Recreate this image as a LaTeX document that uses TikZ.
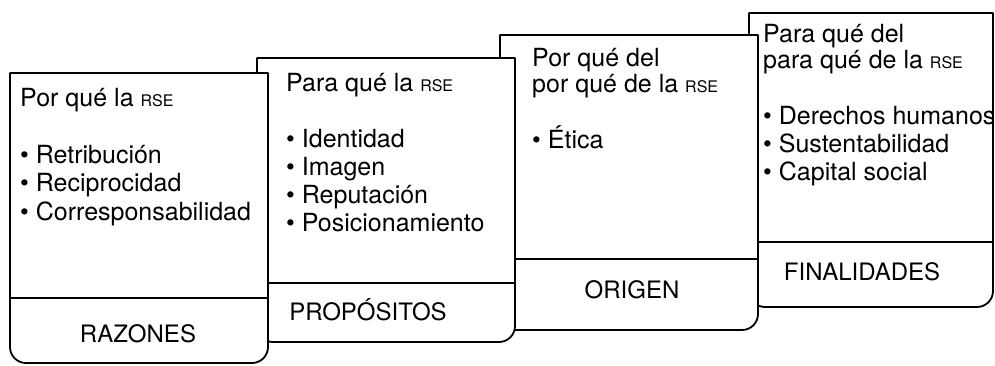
\documentclass[tikz,border=0pt]{standalone}
\usepackage{fontspec}
\setmainfont{TeX Gyre Heros}
\newcommand{\rse}{{\fontsize{16}{16}\selectfont RSE}}
\tikzset{
  card/.style={draw=black, fill=white, line width=1.8pt, line join=round},
  rule/.style={line width=1.8pt},
  txt/.style={anchor=base west, inner sep=0pt, font=\fontsize{25}{28}\selectfont},
  lbl/.style={anchor=base, inner sep=0pt, font=\fontsize{24}{28}\selectfont}
}
\begin{document}
\begin{tikzpicture}[x=1pt,y=1pt]
\useasboundingbox (0,0) rectangle (995,-365);

% finalidades (back)
\draw[card] (749,-13) -- (993,-13) -- (993,-291) arc[start angle=0,end angle=-90,radius=16pt]
  -- (765,-307) arc[start angle=-90,end angle=-180,radius=16pt] -- cycle;
\draw[rule] (749,-242) -- (993,-242);
\node[txt] (fin1) at (763,-42) {Para qué del};
\node[txt] (fin2) at (763,-68) {para qué de la \rse};
\node[txt] (fin3) at (763,-124) {• Derechos humanos};
\node[txt] (fin4) at (763,-152) {• Sustentabilidad};
\node[txt] (fin5) at (763,-180) {• Capital social};
\node[lbl] (finlbl) at (862,-280) {FINALIDADES};

% origen
\draw[card] (500,-35) -- (758,-35) -- (758,-314) arc[start angle=0,end angle=-90,radius=16pt]
  -- (516,-330) arc[start angle=-90,end angle=-180,radius=16pt] -- cycle;
\draw[rule] (500,-259) -- (758,-259);
\node[txt] (ori1) at (532,-66) {Por qué del};
\node[txt] (ori2) at (532,-92) {por qué de la \rse};
\node[txt] (ori3) at (532,-148) {• Ética};
\node[lbl] (orilbl) at (632,-298) {ORIGEN};

% propositos
\draw[card] (257,-58) -- (515,-58) -- (515,-326) arc[start angle=0,end angle=-90,radius=16pt]
  -- (273,-342) arc[start angle=-90,end angle=-180,radius=16pt] -- cycle;
\draw[rule] (257,-283) -- (515,-283);
\node[txt] (pro1) at (286,-91) {Para qué la \rse};
\node[txt] (pro2) at (286,-147) {• Identidad};
\node[txt] (pro3) at (286,-175) {• Imagen};
\node[txt] (pro4) at (286,-203) {• Reputación};
\node[txt] (pro5) at (286,-231) {• Posicionamiento};
\node[lbl] (prolbl) at (368,-320) {PROPÓSITOS};

% razones (front)
\draw[card] (10,-73) -- (268,-73) -- (268,-347) arc[start angle=0,end angle=-90,radius=16pt]
  -- (26,-363) arc[start angle=-90,end angle=-180,radius=16pt] -- cycle;
\draw[rule] (10,-298) -- (268,-298);
\node[txt] (raz1) at (20,-106) {Por qué la \rse};
\node[txt] (raz2) at (20,-163) {• Retribución};
\node[txt] (raz3) at (20,-191) {• Reciprocidad};
\node[txt] (raz4) at (20,-220) {• Corresponsabilidad};
\node[lbl] (razlbl) at (138,-342) {RAZONES};

\end{tikzpicture}
\end{document}
